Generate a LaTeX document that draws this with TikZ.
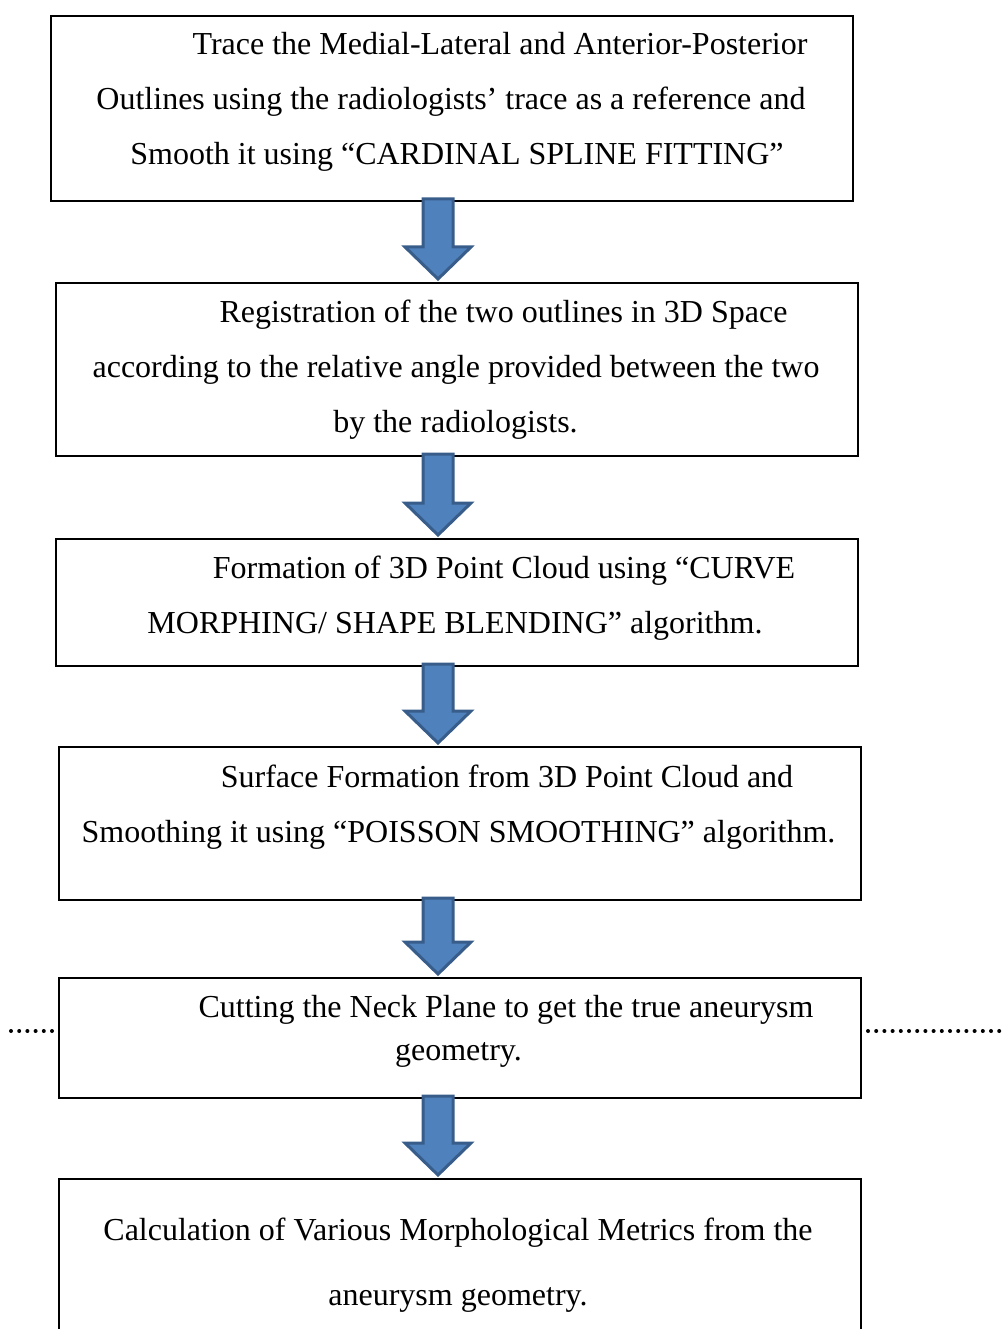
\documentclass[tikz,border=0pt]{standalone}
\usepackage{fontspec}
\setmainfont{Liberation Serif}
\usetikzlibrary{calc}
\definecolor{arrfill}{HTML}{4F81BD}
\definecolor{arrdraw}{HTML}{385D8A}
\tikzset{
  box/.style={draw=black, line width=2pt, rectangle, anchor=north west, inner sep=0pt},
  txt/.style={anchor=base, inner sep=0pt, font=\fontsize{32}{38}\selectfont},
  arrowsty/.style={fill=arrfill, draw=arrdraw, line width=3pt, line join=miter},
  dotline/.style={line width=4pt, line cap=round, dash pattern=on 0pt off 8.2pt}
}
\newcommand\dnarrow[2]{%
  \draw[arrowsty] let \p1=(#1), \p2=(#2) in
    (\x1-15pt,\y1+3pt) -- (\x1+15pt,\y1+3pt) -- (\x1+15pt,\y2+35pt) -- (\x1+33pt,\y2+35pt)
    -- (\x1,\y2+3pt) -- (\x1-33pt,\y2+35pt) -- (\x1-15pt,\y2+35pt) -- cycle;}
\begin{document}
\begin{tikzpicture}[x=1pt,y=-1pt]
\useasboundingbox (0,0) rectangle (1004,1329);
\coordinate (ax) at (438,0);
% boxes
\node[box, minimum width=802pt, minimum height=185pt] (b1) at (50,15) {};
\node[box, minimum width=802pt, minimum height=173pt] (b2) at (55,282) {};
\node[box, minimum width=802pt, minimum height=127pt] (b3) at (55,538) {};
\node[box, minimum width=802pt, minimum height=153pt] (b4) at (58,746) {};
\node[box, minimum width=802pt, minimum height=120pt] (b5) at (58,977) {};
\node[box, minimum width=802pt, minimum height=220pt] (b6) at (58,1178) {};
% texts
\node[txt] (t11) at (500,55) {Trace the Medial-Lateral and Anterior-Posterior};
\node[txt] (t12) at (451,110) {Outlines using the radiologists’ trace as a reference and};
\node[txt] (t13) at (457,165) {Smooth it using “CARDINAL SPLINE FITTING”};
\node[txt] (t21) at (503.5,322) {Registration of the two outlines in 3D Space};
\node[txt] (t22) at (456,377) {according to the relative angle provided between the two};
\node[txt] (t23) at (455.5,432) {by the radiologists.};
\node[txt] (t31) at (504,578) {Formation of 3D Point Cloud using “CURVE};
\node[txt] (t32) at (455,633) {MORPHING/ SHAPE BLENDING” algorithm.};
\node[txt] (t41) at (507,787) {Surface Formation from 3D Point Cloud and};
\node[txt] (t42) at (458.5,842) {Smoothing it using “POISSON SMOOTHING” algorithm.};
\node[txt] (t51) at (506,1017) {Cutting the Neck Plane to get the true aneurysm};
\node[txt] (t52) at (458.5,1060) {geometry.};
\node[txt] (t61) at (458,1240) {Calculation of Various Morphological Metrics from the};
\node[txt] (t62) at (458,1305) {aneurysm geometry.};
% arrows
\dnarrow{ax |- b1.south}{ax |- b2.north}
\dnarrow{ax |- b2.south}{ax |- b3.north}
\dnarrow{ax |- b3.south}{ax |- b4.north}
\dnarrow{ax |- b4.south}{ax |- b5.north}
\dnarrow{ax |- b5.south}{ax |- b6.north}
% dotted lines
\coordinate (dl) at (11,1031);
\coordinate (dr) at (1003,1031);
\draw[dotline] (dl) -- ($(b5.west |- dl)+(-4,0)$);
\draw[dotline] ($(b5.east |- dr)+(6,0)$) -- (dr);
\end{tikzpicture}
\end{document}
